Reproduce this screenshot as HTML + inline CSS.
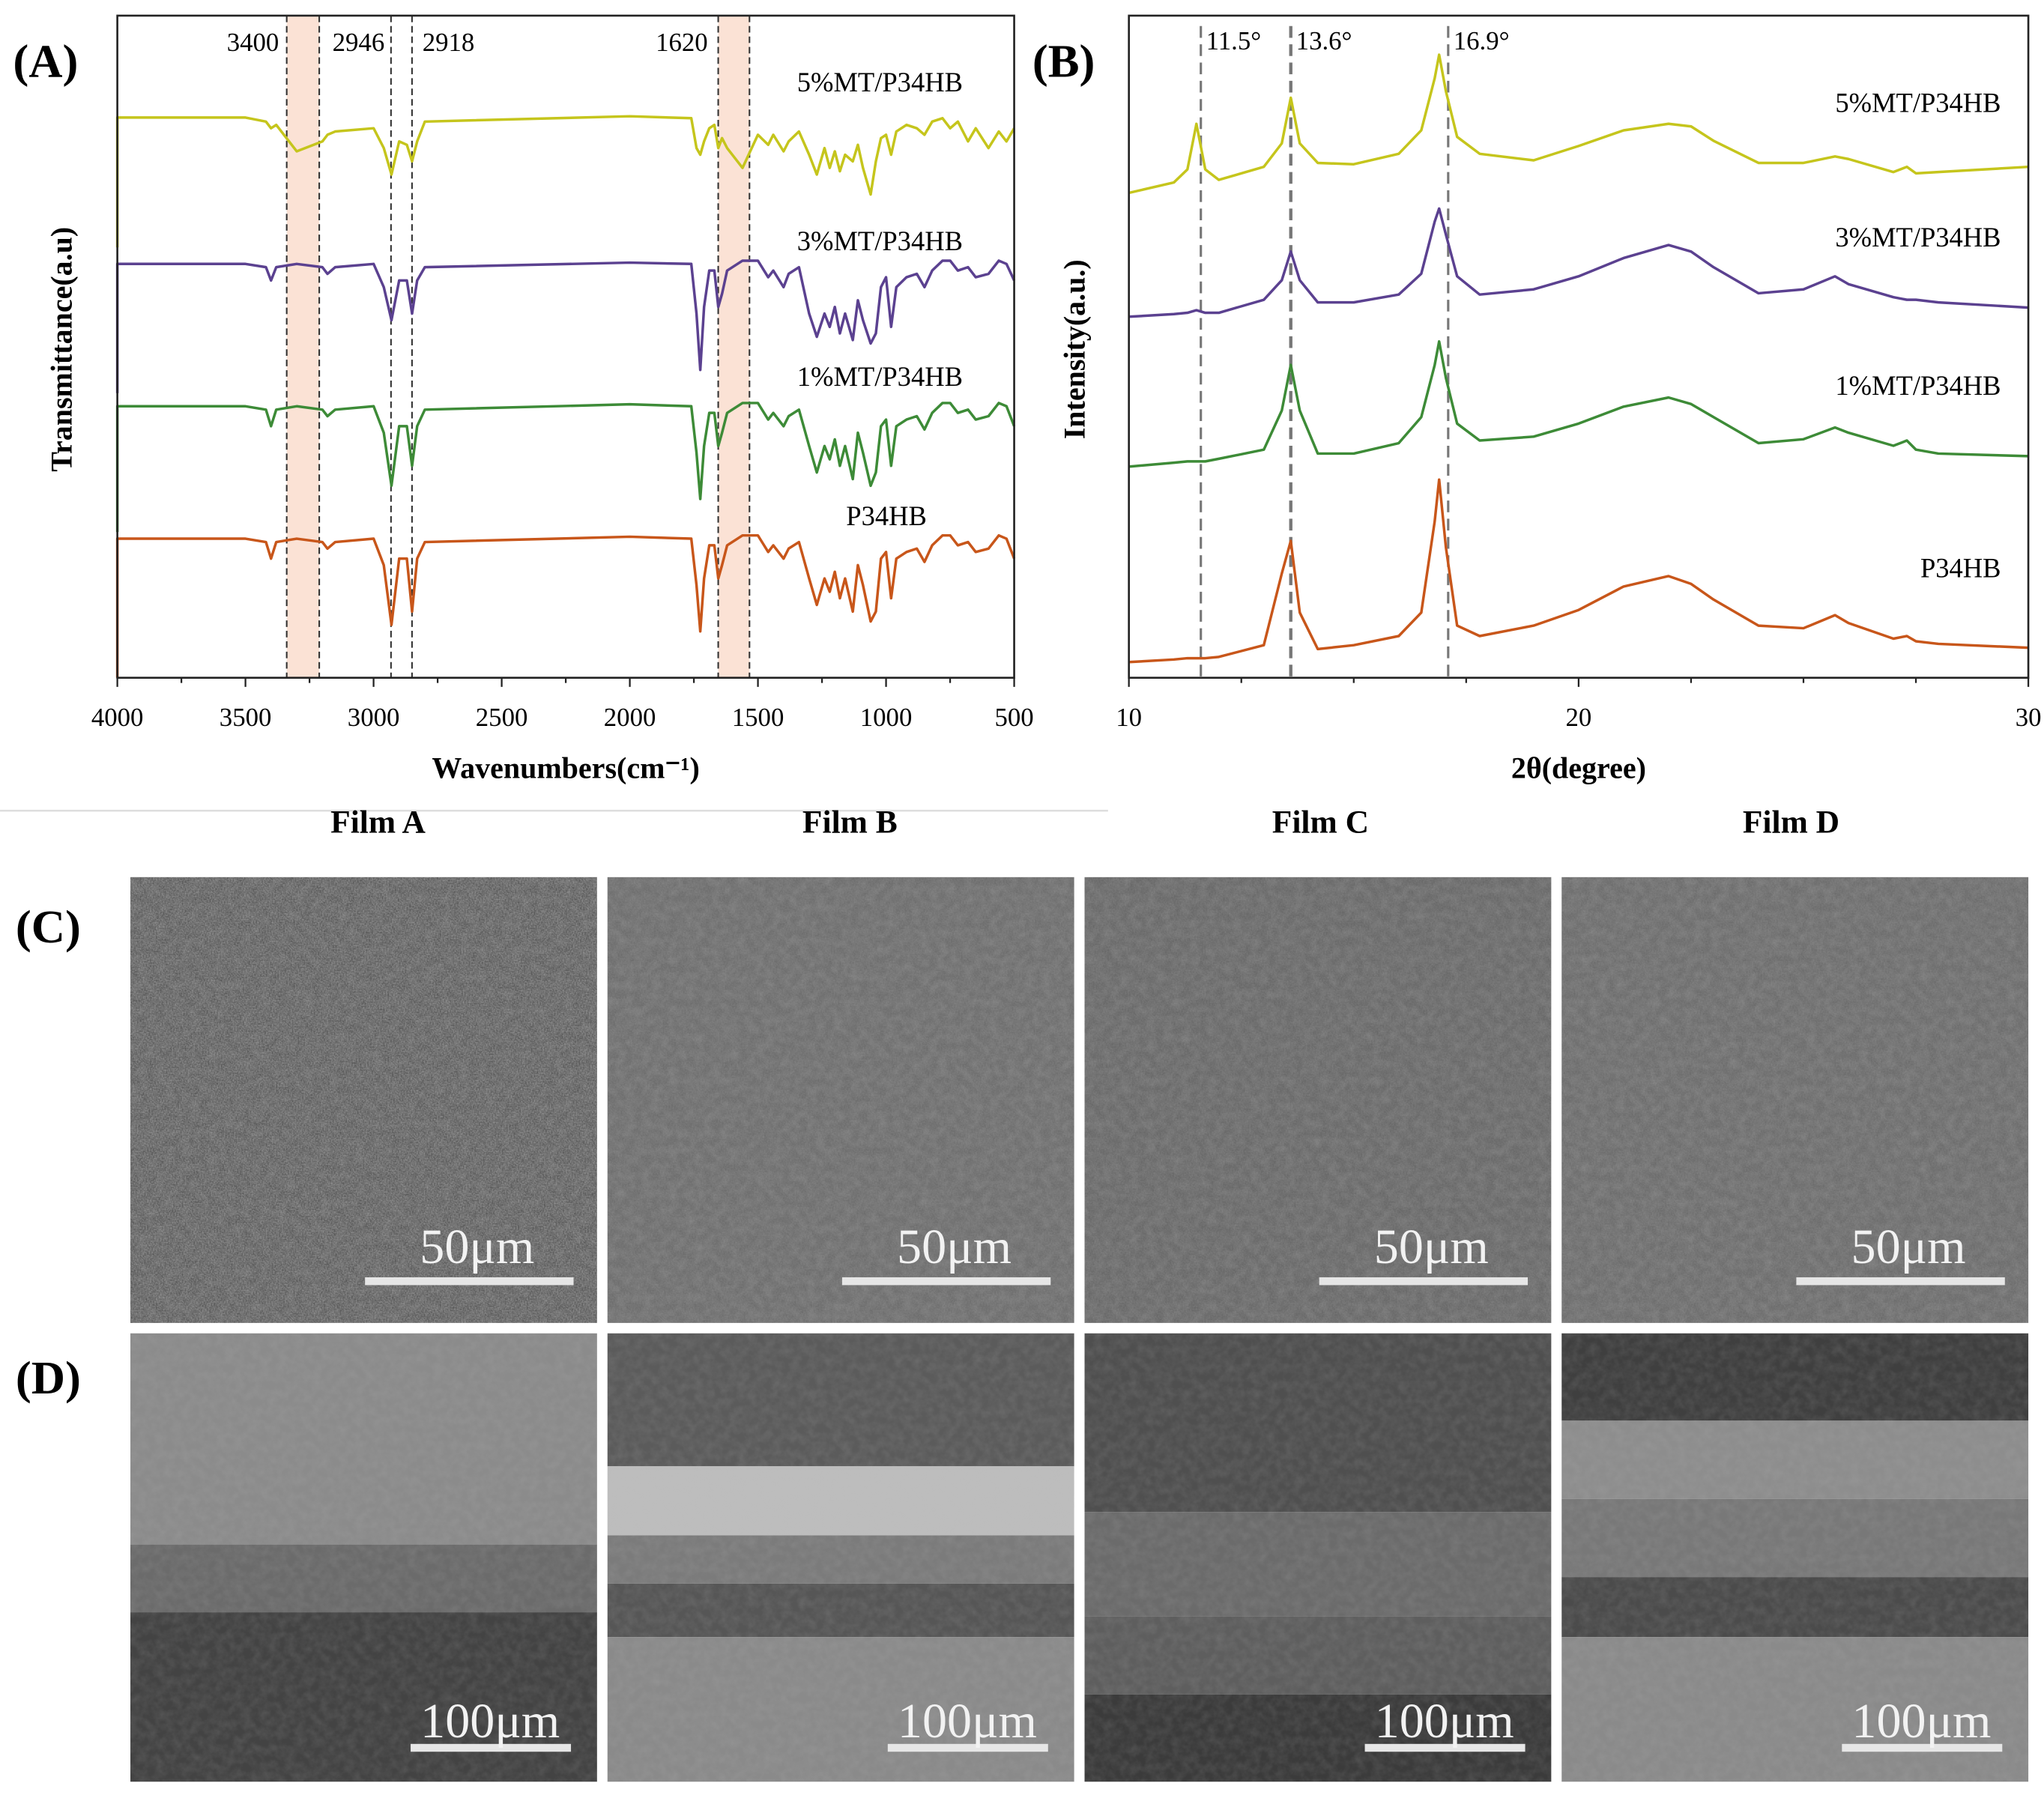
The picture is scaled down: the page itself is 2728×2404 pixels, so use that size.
<!DOCTYPE html>
<html><head><meta charset="utf-8"><style>
html,body{margin:0;padding:0;background:#fff;}
svg{display:block;}
text{font-family:"Liberation Serif",serif;}
</style></head><body>
<svg id="fig" width="2728" height="2404" viewBox="0 0 1568 1381.8" xmlns="http://www.w3.org/2000/svg">
<defs>
<filter id="grain" x="0" y="0" width="100%" height="100%">
<feTurbulence type="fractalNoise" baseFrequency="0.9" numOctaves="2" seed="3"/>
<feColorMatrix type="matrix" values="0 0 0 0 0.5  0 0 0 0 0.5  0 0 0 0 0.5  1 0 0 0 -0.2"/>
</filter>
<filter id="grain2" x="0" y="0" width="100%" height="100%">
<feTurbulence type="fractalNoise" baseFrequency="0.15" numOctaves="3" seed="7"/>
<feColorMatrix type="matrix" values="0 0 0 0 0.5  0 0 0 0 0.5  0 0 0 0 0.5  1 0 0 0 -0.3"/>
</filter>
</defs>
<g id="panelA"></g>
<g id="panelB"></g>
<line x1="0" y1="622" x2="850" y2="622" stroke="#ddd" stroke-width="1.5"/>
<g font-weight="bold" font-size="25" text-anchor="middle">
<text x="290" y="639">Film A</text>
<text x="652" y="639">Film B</text>
<text x="1013" y="639">Film C</text>
<text x="1374" y="639">Film D</text>
</g>
<g font-weight="bold" font-size="36">
<text x="10" y="59">(A)</text>
<text x="792" y="59">(B)</text>
<text x="12" y="723">(C)</text>
<text x="12" y="1069">(D)</text>
</g>
<g id="sem"></g>
</svg>
<script>
const NS="http://www.w3.org/2000/svg";
function mk(parent,tag,attrs,txt){const e=document.createElementNS(NS,tag);for(const k in attrs)e.setAttribute(k,attrs[k]);if(txt!==undefined)e.textContent=txt;parent.appendChild(e);return e;}

/* ---------- FTIR data ---------- */
const ftirWavenumbers=[4000,4000,3500,3420,3400,3380,3300,3200,3180,3150,3000,2960,2930,2900,2870,2850,2830,2800,2000,1760,1740,1725,1710,1690,1670,1655,1640,1620,1560,1500,1460,1440,1400,1380,1340,1300,1270,1240,1220,1200,1180,1160,1130,1110,1090,1060,1040,1020,1000,980,960,920,880,850,820,780,750,720,680,650,600,560,530,500];
const ftirP34HB=[0,21,21,20.5,18,20.5,21,20.5,19.5,20.5,21,17,8,18,18,10,18,20.5,21.3,21,14,7,15,20,20,15,17,20,21.5,21.5,19,20,18,19.5,20.5,15,11,15,13,16,12,15,10,17,14,8.5,10,18,19,12,18,19,19.5,17.5,20,21.5,21.5,20,20.5,19,19.5,21.5,21,18];
const ftir1MT=[22,41,41,40.5,38,40.5,41,40.5,39.5,40.5,41,37,29,38,38,32,38,40.5,41.3,41,34,27,35,40,40,35,37,40,41.5,41.5,39,40,38,39.5,40.5,35,31,35,33,36,32,35,30,37,34,29,31,38,39,32,38,39,39.5,37.5,40,41.5,41.5,40,40.5,39,39.5,41.5,41,38];
const ftir3MT=[43,62.5,62.5,62,60,62,62.5,62,61,62,62.5,59,54,60,60,55,60,62,62.7,62.5,55,46.5,56,61.5,61.5,56,58,61.5,63,63,60.5,61.5,59,61,62,55,51.5,55,53,56,52,55,51,57,54,50.5,52,59,60.5,53,59,60.5,61,59,61.5,63,63,61.5,62,60.5,61,63,62.5,60];
const ftir5MT=[65,84.6,84.6,84,83,83.5,79.5,81,82,82.5,83,80,76,81,80.5,78,81,84,84.8,84.5,80,79,81,83,83.5,80,81.5,80,77,82,80.5,82,79.5,81,82.5,79,76,80,77,79.5,76.5,79,78,80.5,77,73,78,81.5,82,79,82.5,83.5,83,82,84,84.5,83,84,81,83,80,82.5,81,83];
const ftirTicks=[4000,3500,3000,2500,2000,1500,1000,500];
const ftirMarkers=[3339,3212,2932,2850,1655,1533];
const ftirBands=[[3339,3212],[1655,1533]];

/* ---------- XRD data ---------- */
const xrdAngles=[10,11,11.3,11.5,11.7,12,13,13.4,13.6,13.8,14.2,15,16,16.5,16.8,16.9,17.05,17.3,17.8,19,20,21,22,22.5,23,24,25,25.7,26,27,27.3,27.5,28,30];
const xrd5MT=[372,380,390,425,390,382,392,410,445,410,395,394,402,420,460,478,450,415,402,397,408,420,425,423,412,395,395,400,398,388,392,387,388,392];
const xrd3MT=[277,279,280,282,280,280,290,305,327,305,288,288,294,310,350,360,340,308,294,298,308,322,332,327,315,295,298,308,302,292,290,290,288,284];
const xrd1MT=[162,165,166,166,166,168,175,205,240,205,172,172,180,200,240,258,230,195,182,185,195,208,215,210,200,180,183,192,188,178,182,175,172,170];
const xrdP34HB=[12,14,15,15,15,16,25,80,105,50,22,25,32,50,120,152,100,40,32,40,52,70,78,72,60,40,38,48,42,30,32,28,26,23];
const xrdTicks=[10,20,30];
const xrdPeaks=[11.6,13.6,17.1];
const xrdPeakLabels=["11.5°","13.6°","16.9°"];

/* ---------- Panel A ---------- */
(function(){
const g=document.getElementById('panelA');
const L=90,R=778,T=12,B=520;
const xs=w=>L+(4000-w)/3500*(R-L);
const ys=v=>B-v/100*(B-T);
ftirBands.forEach(b=>{const r=mk(g,'rect',{x:xs(b[0]),y:T,width:xs(b[1])-xs(b[0]),height:B-T,fill:'#fbe2d5'});

});
ftirMarkers.forEach(m=>{const l=mk(g,'line',{x1:xs(m),x2:xs(m),y1:T,y2:B,stroke:'#333','stroke-width':1.2,'stroke-dasharray':'5,3'});

});
const series=[[ftir5MT,'#c5c51c','5%MT/P34HB',675,70],[ftir3MT,'#5b4190','3%MT/P34HB',675,192],[ftir1MT,'#3d8b37','1%MT/P34HB',675,296],[ftirP34HB,'#c8561a','P34HB',680,403]];
series.forEach(s=>{
const d=s[0].map((v,i)=>(i?'L':'M')+xs(ftirWavenumbers[i]).toFixed(1)+','+ys(v).toFixed(1)).join('');
const p=mk(g,'path',{d:d,fill:'none',stroke:s[1],'stroke-width':2,'stroke-linejoin':'round'});


const t=mk(g,'text',{x:s[3],y:s[4],'font-size':21,'text-anchor':'middle'},s[2]);


});
const frame=mk(g,'rect',{x:L,y:T,width:R-L,height:B-T,fill:'none',stroke:'#222','stroke-width':1.5});


for(let w=4000;w>=500;w-=250){const l=mk(g,'line',{x1:xs(w),x2:xs(w),y1:B,y2:B+(w%500?4:7),stroke:'#222','stroke-width':1.3});

}
ftirTicks.forEach(w=>{const t=mk(g,'text',{x:xs(w),y:557,'font-size':20,'text-anchor':'middle'},String(w));

});
const labs=[['3400',192,'end'],['2946',275,'middle'],['2918',344,'middle'],['1620',523,'middle']];
labs.forEach(a=>{const t=mk(g,'text',{x:a[1]+(a[2]=='end'?22:0),y:39,'font-size':20,'text-anchor':a[2]=='end'?'end':'middle'},a[0]);

});
const xt=mk(g,'text',{x:434,y:597,'font-size':23,'font-weight':'bold','text-anchor':'middle'},'Wavenumbers(cm⁻¹)');


const yt=mk(g,'text',{x:0,y:0,'font-size':23,'font-weight':'bold','text-anchor':'middle',transform:'translate(55,268) rotate(-90)'},'Transmittance(a.u)');


})();

/* ---------- Panel B ---------- */
(function(){
const g=document.getElementById('panelB');
const L=866,R=1556,T=12,B=520;
const xs=a=>L+(a-10)/20*(R-L);
const ys=v=>B-v;
xrdPeaks.forEach((p,i)=>{const l=mk(g,'line',{x1:xs(p),x2:xs(p),y1:T+8,y2:B,stroke:'#777','stroke-width':i==1?2.5:1.8,'stroke-dasharray':'9,5'});


const t=mk(g,'text',{x:xs(p)+4,y:38,'font-size':20},xrdPeakLabels[i]);

});
const series=[[xrd5MT,'#c5c51c','5%MT/P34HB',86],[xrd3MT,'#5b4190','3%MT/P34HB',189],[xrd1MT,'#3d8b37','1%MT/P34HB',303],[xrdP34HB,'#c8561a','P34HB',443]];
series.forEach(s=>{
const d=s[0].map((v,i)=>(i?'L':'M')+xs(xrdAngles[i]).toFixed(1)+','+ys(v).toFixed(1)).join('');
const p=mk(g,'path',{d:d,fill:'none',stroke:s[1],'stroke-width':2,'stroke-linejoin':'round'});


const t=mk(g,'text',{x:1535,y:s[3],'font-size':21,'text-anchor':'end'},s[2]);


});
const frame=mk(g,'rect',{x:L,y:T,width:R-L,height:B-T,fill:'none',stroke:'#222','stroke-width':1.5});


for(let a=10;a<=30;a+=2.5){const l=mk(g,'line',{x1:xs(a),x2:xs(a),y1:B,y2:B+(a%10?4:7),stroke:'#222','stroke-width':1.3});

}
xrdTicks.forEach(a=>{const t=mk(g,'text',{x:xs(a),y:557,'font-size':20,'text-anchor':'middle'},String(a));

});
const xt=mk(g,'text',{x:1211,y:597,'font-size':23,'font-weight':'bold','text-anchor':'middle'},'2θ(degree)');


const yt=mk(g,'text',{x:0,y:0,'font-size':23,'font-weight':'bold','text-anchor':'middle',transform:'translate(832,268) rotate(-90)'},'Intensity(a.u.)');


})();

/* ---------- SEM images ---------- */
(function(){
const g=document.getElementById('sem');
const xsPos=[100,466,832,1198],W=358;
const cBase=['#555555','#6c6c6c','#676767','#6b6b6b'];
const films=['a','b','c','d'];
xsPos.forEach((x,i)=>{
const gr=mk(g,'g',{});


mk(gr,'rect',{x:x,y:673,width:W,height:342,fill:cBase[i]});
mk(gr,'rect',{x:x,y:673,width:W,height:342,filter:'url(#grain2)',opacity:0.35});
mk(gr,'rect',{x:x,y:673,width:W,height:342,filter:'url(#grain)',opacity:i==0?0.8:0.3});
mk(gr,'rect',{x:x+180,y:980,width:160,height:6,fill:'#e6e6e6'});
const t=mk(gr,'text',{x:x+266,y:969,'font-size':38,fill:'#f2f2f2','text-anchor':'middle'},'50μm');


});
const bands=[
 [[1023,1185,'#8b8b8b'],[1185,1237,'#6b6b6b'],[1237,1367,'#434343']],
 [[1023,1125,'#5b5b5b'],[1125,1178,'#bdbdbd'],[1178,1215,'#7b7b7b'],[1215,1256,'#565656'],[1256,1367,'#8a8a8a']],
 [[1023,1160,'#4f4f4f'],[1160,1240,'#6b6b6b'],[1240,1300,'#5e5e5e'],[1300,1367,'#3b3b3b']],
 [[1023,1090,'#3f3f3f'],[1090,1150,'#8d8d8d'],[1150,1210,'#787878'],[1210,1256,'#4b4b4b'],[1256,1367,'#8a8a8a']]
];
xsPos.forEach((x,i)=>{
const gr=mk(g,'g',{});


bands[i].forEach(b=>mk(gr,'rect',{x:x,y:b[0],width:W,height:b[1]-b[0],fill:b[2]}));
mk(gr,'rect',{x:x,y:1023,width:W,height:344,filter:'url(#grain2)',opacity:0.25});
mk(gr,'rect',{x:x+215,y:1338,width:123,height:6,fill:'#e6e6e6'});
const t=mk(gr,'text',{x:x+276,y:1333,'font-size':38,fill:'#f2f2f2','text-anchor':'middle'},'100μm');


});
})();
</script>
</body></html>
